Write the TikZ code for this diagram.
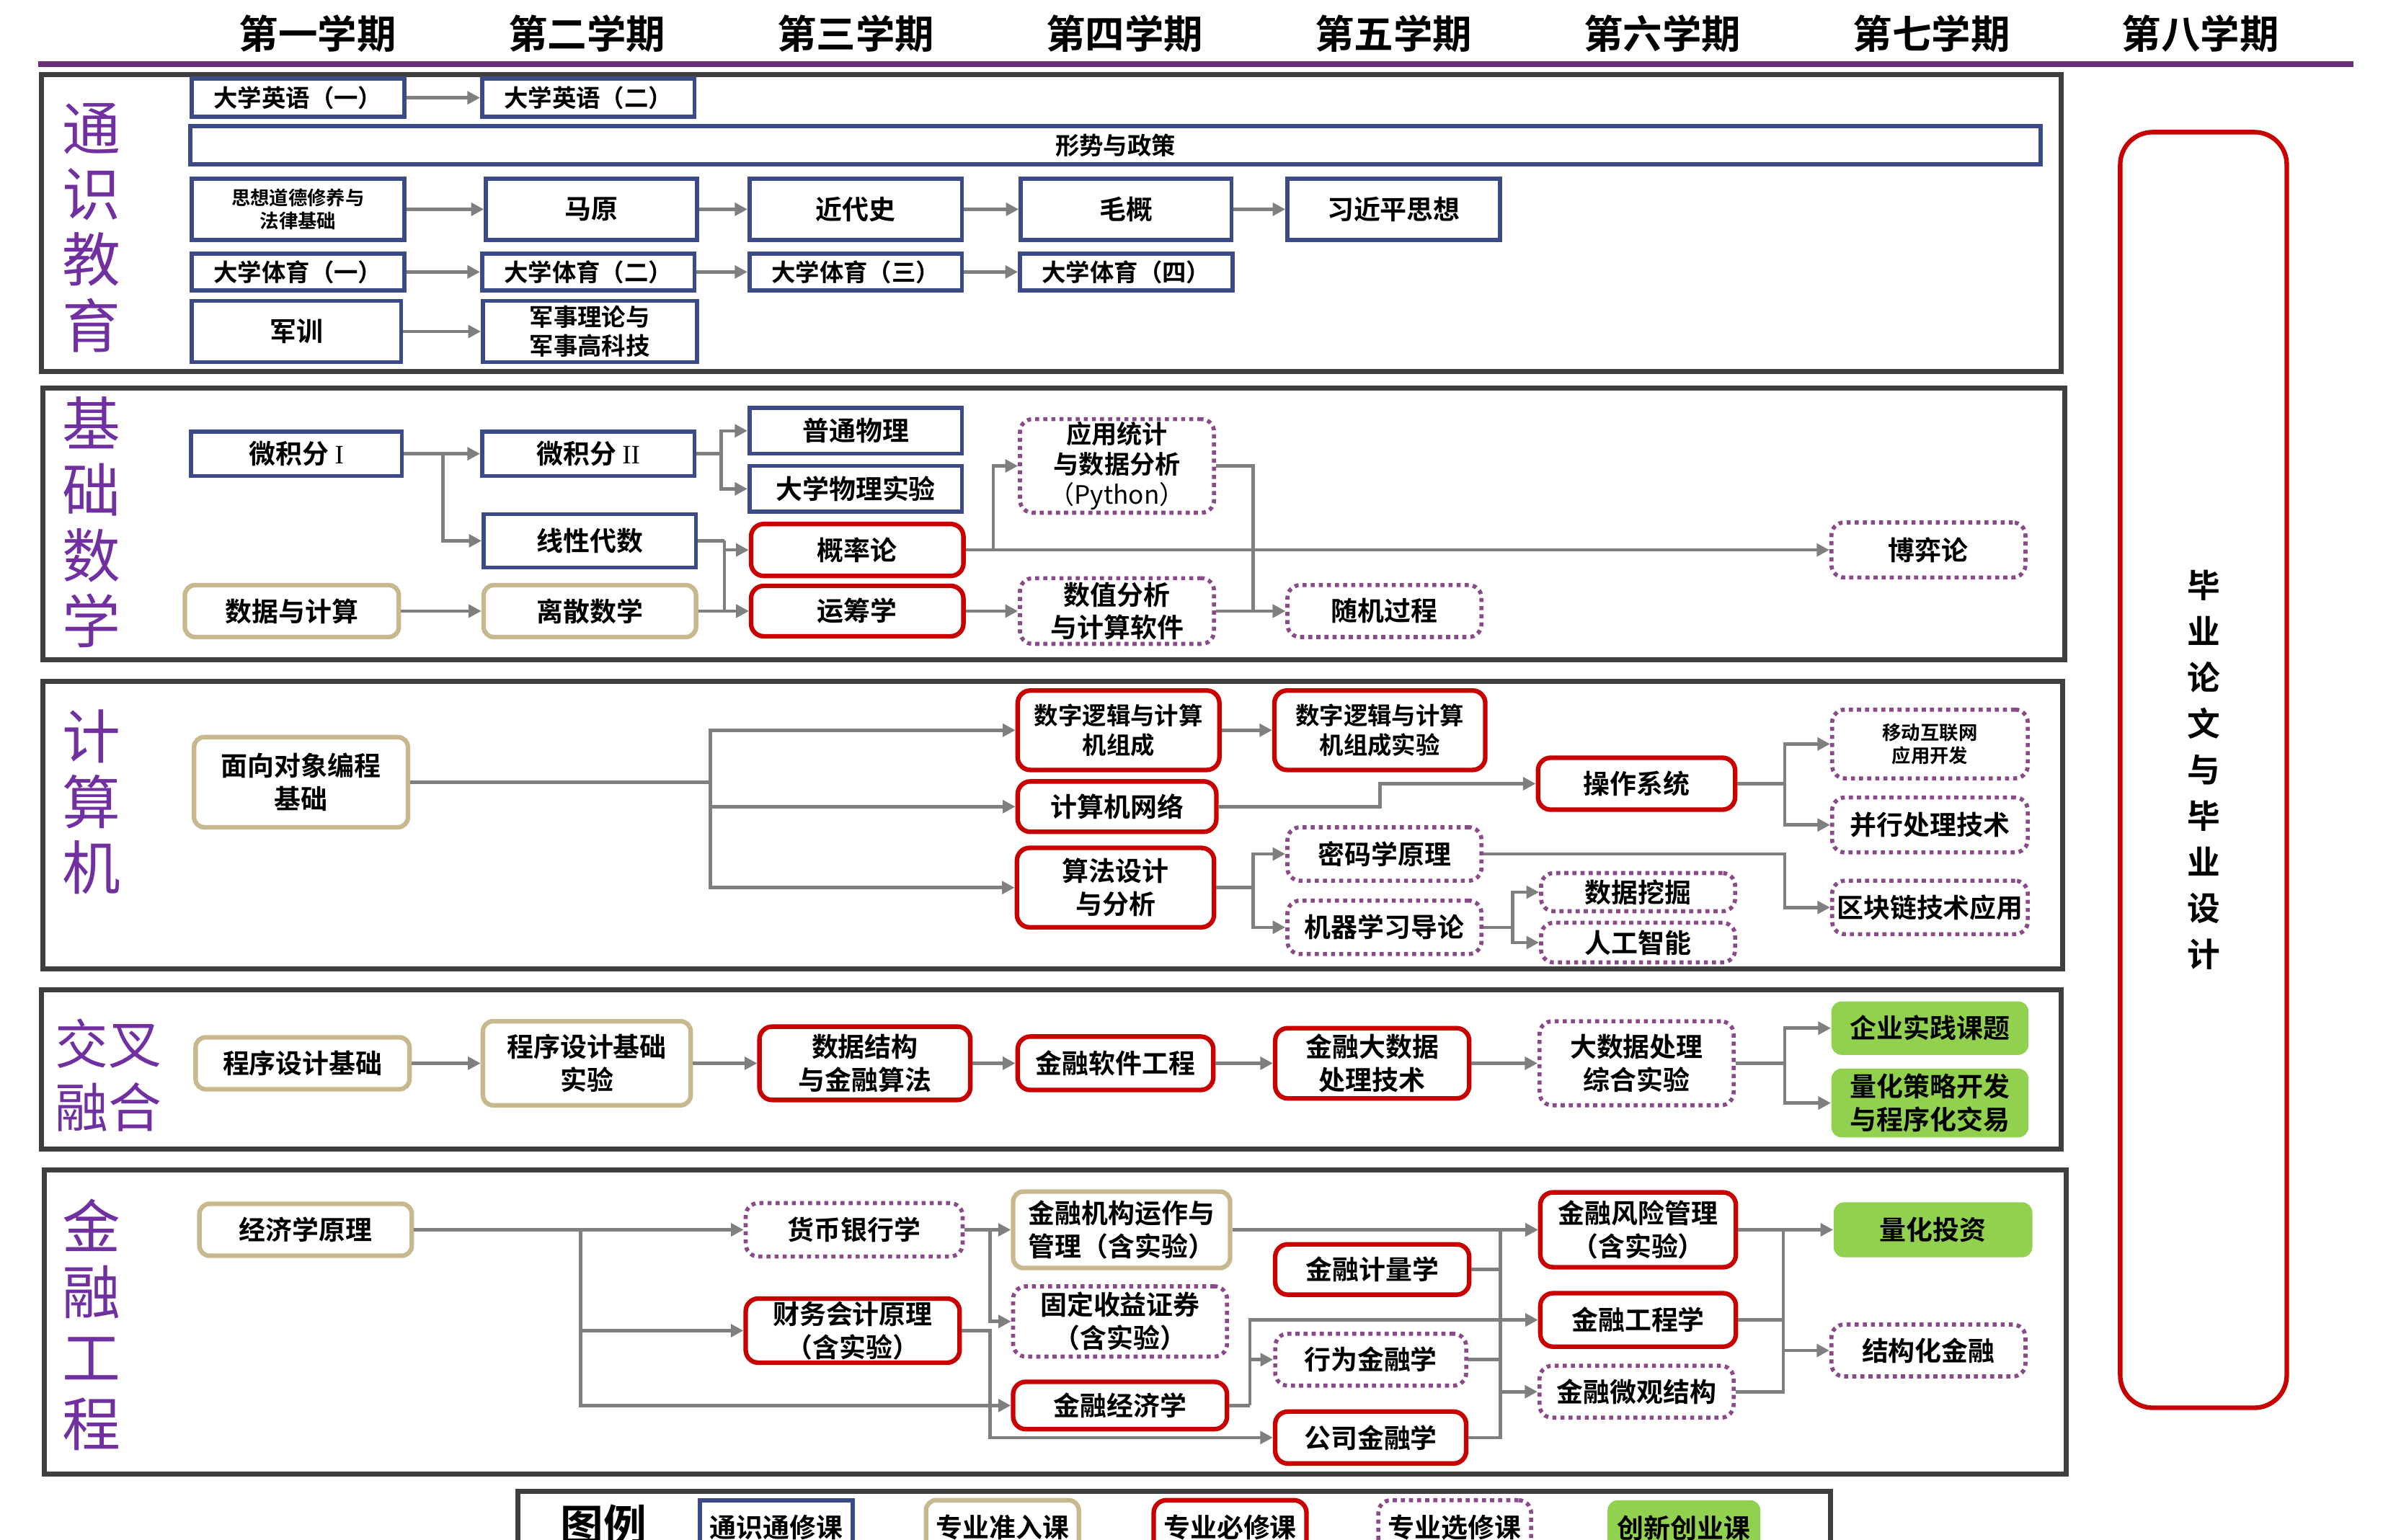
\documentclass[tikz,border=0pt]{standalone}
\usepackage{fontspec}
\setmainfont{Noto Sans CJK SC}[BoldFont={Noto Sans CJK SC Bold}]
\newfontfamily\serifrm{Liberation Serif}
\usetikzlibrary{arrows.meta}

\definecolor{genblue}{HTML}{3C4A87}
\definecolor{entrytan}{HTML}{C8B88E}
\definecolor{corered}{HTML}{C80000}
\definecolor{electpurple}{HTML}{8A4A8A}
\definecolor{innogreen}{HTML}{92D050}
\definecolor{linkgray}{HTML}{7F7F7F}
\definecolor{framegray}{HTML}{3F3F3F}
\definecolor{rulepurple}{HTML}{6A2D78}
\definecolor{labelpurple}{HTML}{7030A0}

\newcommand\boxfont{\bfseries\fontsize{10.5}{13}\selectfont}
\newcommand\midfont{\bfseries\fontsize{9.5}{11.5}\selectfont}
\newcommand\tinyfont{\bfseries\fontsize{7.5}{9}\selectfont}

\tikzset{
  % Course box styles
  course/.style={rectangle, fill=white, inner sep=1pt, align=center, font=\boxfont},
  tongxiu/.style={course, draw=genblue, line width=1.6pt},
  zhunru/.style={course, draw=entrytan, line width=1.8pt, rounded corners=4pt},
  bixiu/.style={course, draw=corered, line width=1.8pt, rounded corners=5pt},
  xuanxiu/.style={course, draw=electpurple, line width=1.6pt, dash pattern=on 1.6pt off 1.6pt, rounded corners=5pt},
  chuangxin/.style={course, fill=innogreen, rounded corners=4pt},
  wh/.style 2 args={minimum width=#1*0.0212cm, minimum height=#2*0.0212cm},
  % Connectors
  conn/.style={draw=linkgray, line width=1.3pt},
  arr/.style={conn, -{Triangle[length=5pt, width=5pt]}},
  % Frames and labels
  secframe/.style={draw=framegray, line width=2pt},
  seclabel/.style={align=center, text=labelpurple, font=\fontsize{23}{26}\selectfont},
  termhead/.style={font=\bfseries\fontsize{15.5}{18}\selectfont},
}

\begin{document}
\begin{tikzpicture}[x=0.0212cm, y=-0.0212cm]
  \useasboundingbox (0,0) rectangle (1568,1008);

  % --- TERM HEADERS ---
  \foreach \sem [count=\i] in {一,二,三,四,五,六,七,八}
    \node[termhead] (term\i) at ({208+176*(\i-1)}, 22) {第\sem 学期};
  \draw[rulepurple, line width=2.4pt] (25,42) -- (1540,42);

  % --- 通识教育 ---
  \draw[secframe] (27,49) rectangle (1349,243);
  \node[seclabel] (lab-ty) at (60,149) {通\\识\\教\\育};
  \node[tongxiu, wh={139}{25}, font=\midfont] (yy1) at (195,64) {大学英语（一）};
  \node[tongxiu, wh={139}{25}, font=\midfont] (yy2) at (385,64) {大学英语（二）};
  \node[tongxiu, wh={1211}{25}, font=\midfont] (xszc) at (730,95) {形势与政策};
  \node[tongxiu, wh={139}{40}, font=\tinyfont] (sx) at (195,137) {思想道德修养与\\法律基础};
  \node[tongxiu, wh={138}{40}] (my) at (387,137) {马原};
  \node[tongxiu, wh={139}{40}] (jds) at (560,137) {近代史};
  \node[tongxiu, wh={138}{40}] (mg) at (737,137) {毛概};
  \node[tongxiu, wh={139}{40}] (xjp) at (912,137) {习近平思想};
  \node[tongxiu, wh={139}{24}, font=\midfont] (ty1) at (195,178) {大学体育（一）};
  \node[tongxiu, wh={139}{24}, font=\midfont] (ty2) at (385,178) {大学体育（二）};
  \node[tongxiu, wh={139}{24}, font=\midfont] (ty3) at (560,178) {大学体育（三）};
  \node[tongxiu, wh={139}{24}, font=\midfont] (ty4) at (737,178) {大学体育（四）};
  \node[tongxiu, wh={137}{40}] (jx) at (194,217) {军训};
  \node[tongxiu, wh={140}{40}, font=\midfont] (jsll) at (386,217) {军事理论与\\军事高科技};

  \draw[arr] (yy1) -- (yy2);
  \draw[arr] (sx) -- (my);
  \draw[arr] (my) -- (jds);
  \draw[arr] (jds) -- (mg);
  \draw[arr] (mg) -- (xjp);
  \draw[arr] (ty1) -- (ty2);
  \draw[arr] (ty2) -- (ty3);
  \draw[arr] (ty3) -- (ty4);
  \draw[arr] (jx) -- (jsll);

  % --- 基础数学 ---
  \draw[secframe] (28,254) rectangle (1351,432);
  \node[seclabel] (lab-sx) at (60,342) {基\\础\\数\\学};
  \node[tongxiu, wh={138}{29}] (wjf1) at (194,297) {微积分\ {\mdseries\serifrm I}};
  \node[tongxiu, wh={139}{29}] (wjf2) at (385,297) {微积分\ {\mdseries\serifrm II}};
  \node[tongxiu, wh={139}{30}] (ptwl) at (560,282) {普通物理};
  \node[tongxiu, wh={139}{30}] (wlsy) at (560,320) {大学物理实验};
  \node[tongxiu, wh={139}{35}] (xxds) at (386,354) {线性代数};
  \node[bixiu, wh={139}{34}] (gll) at (561,360) {概率论};
  \node[zhunru, wh={140}{34}] (sjjs) at (191,400) {数据与计算};
  \node[zhunru, wh={139}{34}] (lsx) at (386,400) {离散数学};
  \node[bixiu, wh={139}{33}] (ycx) at (561,400) {运筹学};
  \node[xuanxiu, wh={127}{60}, font=\bfseries\fontsize{10}{12}\selectfont] (yytj) at (731,305) {应用统计\\与数据分析\\{\mdseries （Python）}};
  \node[xuanxiu, wh={127}{43}] (szfx) at (731,400) {数值分析\\与计算软件};
  \node[xuanxiu, wh={127}{34}] (sjgc) at (906,400) {随机过程};
  \node[xuanxiu, wh={127}{36}] (byl) at (1262,360) {博弈论};

  \coordinate (j21) at (290,297);
  \coordinate (j22) at (472,297);
  \coordinate (j23) at (474,354);
  \coordinate (j24) at (650,360);
  \coordinate (j25) at (820,305);
  \draw[arr] (wjf1) -- (wjf2);
  \draw[arr] (j21) |- (xxds);
  \draw[conn] (wjf2) -- (j22);
  \draw[arr] (j22) |- (ptwl);
  \draw[arr] (j22) |- (wlsy);
  \draw[conn] (xxds) -- (j23);
  \draw[arr] (j23) |- (gll);
  \draw[arr] (j23) |- (ycx);
  \draw[arr] (sjjs) -- (lsx);
  \draw[arr] (lsx) -- (ycx);
  \draw[arr] (gll) -- (byl);
  \draw[arr] (j24) |- (yytj);
  \draw[arr] (ycx) -- (szfx);
  \draw[arr] (yytj) -- (j25) |- (sjgc);
  \draw[arr] (szfx) -- (sjgc);

  % --- 计算机 ---
  \draw[secframe] (28,446) rectangle (1350,634);
  \node[seclabel] (lab-js) at (60,525) {计\\算\\机};
  \node[zhunru, wh={140}{59}] (mxdx) at (197,512) {面向对象编程\\基础};
  \node[bixiu, wh={132}{52}, font=\midfont] (szlj) at (732,478) {数字逻辑与计算\\机组成};
  \node[bixiu, wh={130}{33}] (jsjw) at (731,528) {计算机网络};
  \node[bixiu, wh={129}{52}] (sfsj) at (730,581) {算法设计\\与分析};
  \node[bixiu, wh={138}{52}, font=\midfont] (szljsy) at (903,478) {数字逻辑与计算\\机组成实验};
  \node[bixiu, wh={129}{34}] (czxt) at (1071,513) {操作系统};
  \node[xuanxiu, wh={127}{35}] (mmx) at (906,559) {密码学原理};
  \node[xuanxiu, wh={127}{35}] (jqxx) at (906,607) {机器学习导论};
  \node[xuanxiu, wh={127}{25}] (sjwj) at (1072,584) {数据挖掘};
  \node[xuanxiu, wh={127}{26}] (rgzn) at (1072,617) {人工智能};
  \node[xuanxiu, wh={128}{45}, font=\tinyfont] (ydhl) at (1263,487) {移动互联网\\应用开发};
  \node[xuanxiu, wh={128}{36}] (bxcl) at (1263,540) {并行处理技术};
  \node[xuanxiu, wh={128}{35}] (qkl) at (1263,594) {区块链技术应用};

  \coordinate (j31) at (465,512);
  \coordinate (j32) at (903,528);
  \coordinate (j33) at (1168,513);
  \coordinate (j34) at (820,581);
  \coordinate (j35) at (990,607);
  \coordinate (j36) at (1168,559);
  \draw[conn] (mxdx) -- (j31);
  \draw[arr] (j31) |- (szlj);
  \draw[arr] (j31) |- (jsjw);
  \draw[arr] (j31) |- (sfsj);
  \draw[arr] (szlj) -- (szljsy);
  \draw[arr] (jsjw) -- (j32) |- (czxt);
  \draw[conn] (czxt) -- (j33);
  \draw[arr] (j33) |- (ydhl);
  \draw[arr] (j33) |- (bxcl);
  \draw[conn] (sfsj) -- (j34);
  \draw[arr] (j34) |- (mmx);
  \draw[arr] (j34) |- (jqxx);
  \draw[conn] (jqxx) -- (j35);
  \draw[arr] (j35) |- (sjwj);
  \draw[arr] (j35) |- (rgzn);
  \draw[arr] (mmx) -- (j36) |- (qkl);

  % --- 交叉融合 ---
  \draw[secframe] (27,648) rectangle (1349,752);
  \node[seclabel, font=\fontsize{21}{25}\selectfont] (lab-jc) at (71,704) {交叉\\融合};
  \node[zhunru, wh={140}{34}] (cxjc) at (198,696) {程序设计基础};
  \node[zhunru, wh={136}{55}] (cxsy) at (384,696) {程序设计基础\\实验};
  \node[bixiu, wh={138}{48}] (sjjg) at (566,696) {数据结构\\与金融算法};
  \node[bixiu, wh={128}{35}] (rjgc) at (730,696) {金融软件工程};
  \node[bixiu, wh={127}{46}] (dsj) at (898,696) {金融大数据\\处理技术};
  \node[xuanxiu, wh={127}{55}] (dsjzh) at (1071,696) {大数据处理\\综合实验};
  \node[chuangxin, wh={129}{35}] (qysj) at (1263,673) {企业实践课题};
  \node[chuangxin, wh={129}{45}] (lhcl) at (1263,722) {量化策略开发\\与程序化交易};

  \coordinate (j41) at (1168,696);
  \draw[arr] (cxjc) -- (cxsy);
  \draw[arr] (cxsy) -- (sjjg);
  \draw[arr] (sjjg) -- (rjgc);
  \draw[arr] (rjgc) -- (dsj);
  \draw[arr] (dsj) -- (dsjzh);
  \draw[conn] (dsjzh) -- (j41);
  \draw[arr] (j41) |- (qysj);
  \draw[arr] (j41) |- (lhcl);

  % --- 金融工程 ---
  \draw[secframe] (29,766) rectangle (1352,965);
  \node[seclabel] (lab-jr) at (60,867) {金\\融\\工\\程};
  \node[zhunru, wh={139}{34}] (jjx) at (200,805) {经济学原理};
  \node[xuanxiu, wh={142}{35}] (hbyh) at (559,805) {货币银行学};
  \node[bixiu, wh={140}{42}] (cwkj) at (558,871) {财务会计原理\\（含实验）};
  \node[zhunru, wh={142}{50}] (jrjg) at (734,805) {金融机构运作与\\管理（含实验）};
  \node[xuanxiu, wh={140}{46}] (gdsy) at (733,865) {固定收益证券\\（含实验）};
  \node[bixiu, wh={140}{31}] (jrjj) at (733,920) {金融经济学};
  \node[bixiu, wh={127}{33}] (jljl) at (898,831) {金融计量学};
  \node[xuanxiu, wh={125}{34}] (xwjr) at (897,890) {行为金融学};
  \node[bixiu, wh={125}{34}] (gsjr) at (897,941) {公司金融学};
  \node[bixiu, wh={128}{49}] (fxgl) at (1072,805) {金融风险管理\\（含实验）};
  \node[bixiu, wh={128}{35}] (gcx) at (1072,864) {金融工程学};
  \node[xuanxiu, wh={127}{34}] (wgjg) at (1071,911) {金融微观结构};
  \node[chuangxin, wh={130}{36}] (lhtz) at (1265,805) {量化投资};
  \node[xuanxiu, wh={127}{34}] (jghjr) at (1262,884) {结构化金融};

  \coordinate (j51) at (380,805);
  \coordinate (j52) at (648,805);
  \coordinate (j53) at (648,871);
  \coordinate (j54) at (982,831);
  \coordinate (j55) at (818,920);
  \coordinate (j56) at (1167,805);
  \draw[arr] (jjx) -- (hbyh);
  \draw[arr] (j51) |- (cwkj);
  \draw[arr] (j51) |- (jrjj);
  \draw[arr] (hbyh) -- (jrjg);
  \draw[arr] (j52) |- (gdsy);
  \draw[arr] (cwkj) -- (j53) |- (gsjr);
  \draw[arr] (jrjg) -- (fxgl);
  \draw[conn] (jljl) -- (j54);
  \draw[conn] (xwjr) -- (j54 |- xwjr);
  \draw[conn] (gsjr) -- (j54 |- gsjr) -- (j54 |- fxgl);
  \draw[arr] (j54 |- fxgl) -- (fxgl);
  \draw[arr] (j54 |- wgjg) -- (wgjg);
  \draw[conn] (jrjj) -- (j55);
  \draw[arr] (j55) |- (gcx);
  \draw[arr] (j55 |- xwjr) -- (xwjr);
  \draw[arr] (fxgl) -- (lhtz);
  \draw[conn] (gcx) -- (j56 |- gcx);
  \draw[conn] (wgjg) -- (j56 |- wgjg) -- (j56);
  \draw[arr] (j56 |- jghjr) -- (jghjr);

  % --- 毕业论文 ---
  \node[draw=corered, line width=1.8pt, rounded corners=0.45cm, wh={109}{835}, align=center,
        font=\bfseries\fontsize{13}{18.2}\selectfont] (biye) at (1442,504)
        {毕\\业\\论\\文\\与\\毕\\业\\设\\计};

  % --- LEGEND ---
  \draw[secframe] (339,976) rectangle (1198,1040);
  \node[font=\bfseries\fontsize{17}{20}\selectfont] (lg0) at (395,998) {图例};
  \node[tongxiu, wh={100}{36}] (lg1) at (508,1000) {通识通修课};
  \node[zhunru, wh={100}{36}] (lg2) at (656,1000) {专业准入课};
  \node[bixiu, wh={100}{36}] (lg3) at (805,1000) {专业必修课};
  \node[xuanxiu, wh={100}{36}] (lg4) at (952,1000) {专业选修课};
  \node[chuangxin, wh={100}{36}] (lg5) at (1102,1000) {创新创业课};
\end{tikzpicture}
\end{document}
